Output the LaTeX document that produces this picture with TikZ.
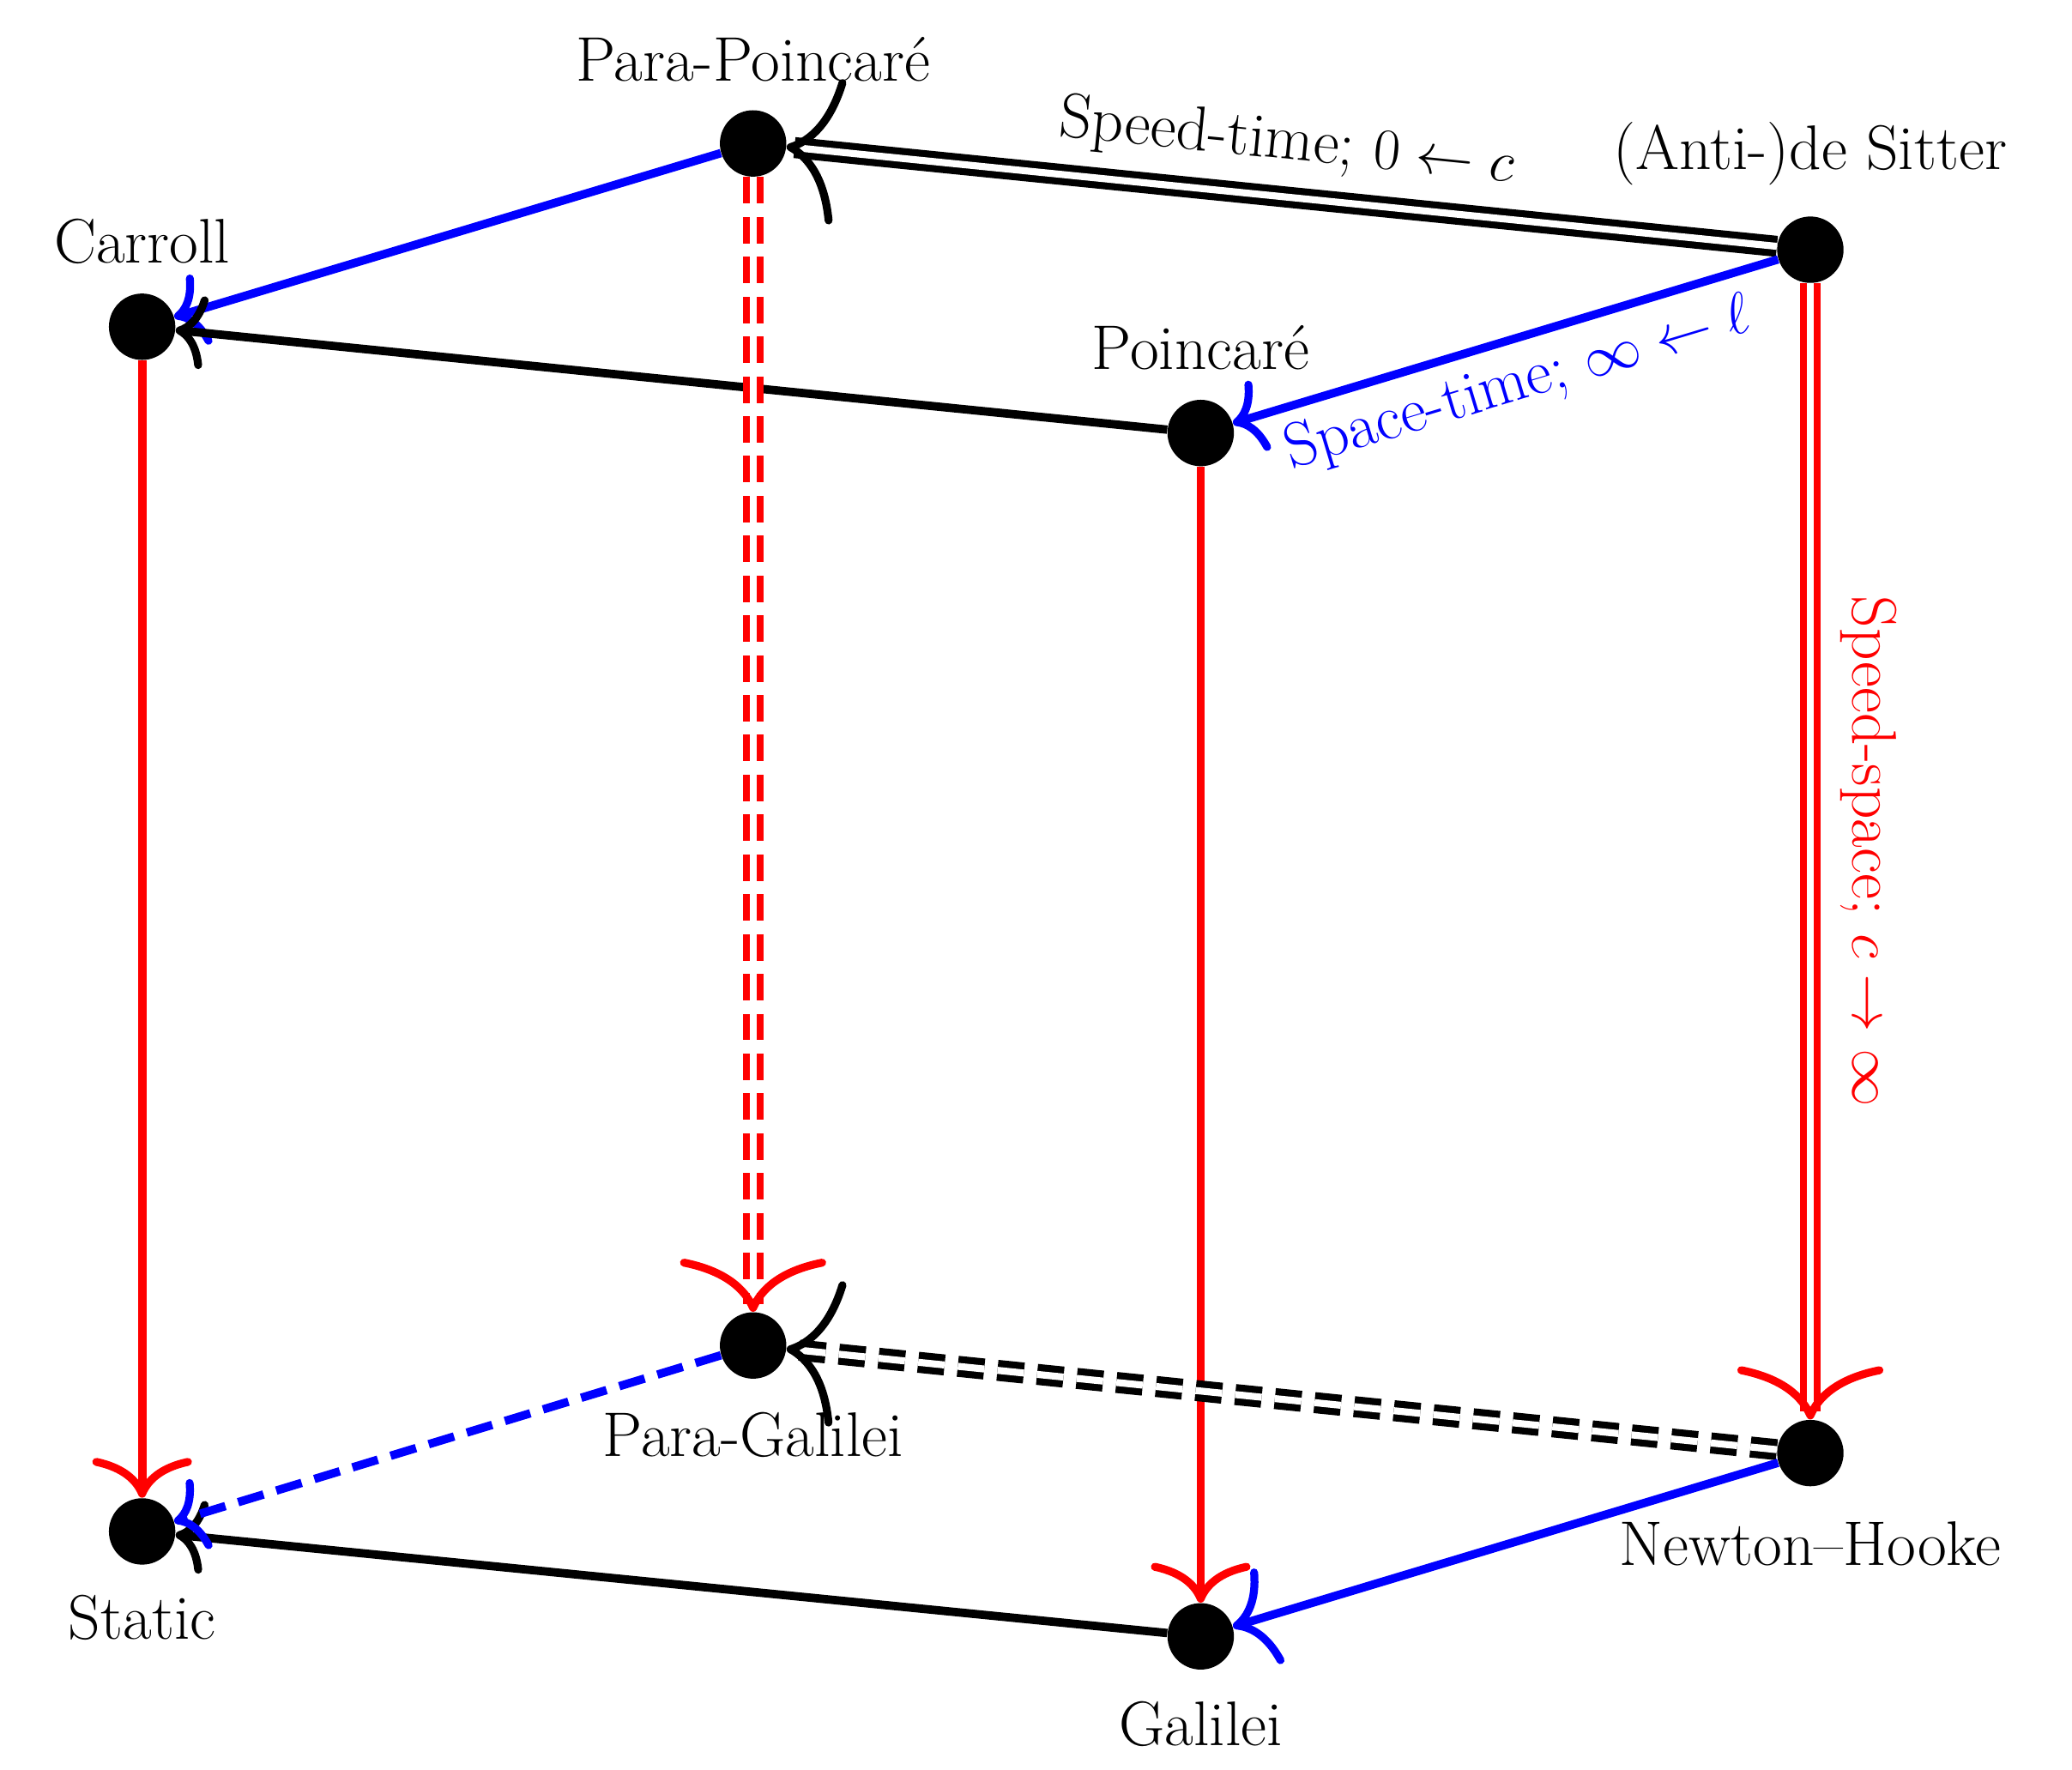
\documentclass[tikz,border=0pt]{standalone}
\usetikzlibrary{arrows.meta}
\begin{document}
\begin{tikzpicture}[x=0.02cm,y=-0.02cm,
  dot/.style={circle,fill=black,inner sep=0pt,minimum size=1cm},
  lab/.style={font=\fontsize{27}{31}\selectfont},
  e/.style={line width=3.6pt},
  sm/.style={-{Computer Modern Rightarrow[length=0.45cm,width=1.1cm,line width=3.4pt]}},
  bg/.style={-{Computer Modern Rightarrow[length=0.8cm,width=2.2cm,line width=3.4pt]}},
  dbl/.style={line width=3pt,double,double distance=3pt},
  dsh/.style={dash pattern=on 0.4cm off 0.2cm}]
\useasboundingbox (0,0) rectangle (1560,1332);
\node[dot] (pp) at (567,108) {};
\node[dot] (ads) at (1363,188) {};
\node[dot] (car) at (107,246) {};
\node[dot] (poi) at (904,326) {};
\node[dot] (pg) at (567,1013) {};
\node[dot] (nh) at (1363,1094) {};
\node[dot] (sta) at (107,1153) {};
\node[dot] (gal) at (904,1232) {};
\node[lab] (tpp) at (567,45) {Para-Poincaré};
\node[lab] (tads) at (1363,116) {(Anti-)de Sitter};
\node[lab] (tcar) at (107,182) {Carroll};
\node[lab] (tpoi) at (904,262) {Poincaré};
\node[lab] (tpg) at (567,1080) {Para-Galilei};
\node[lab] (tnh) at (1363,1162) {Newton--Hooke};
\node[lab] (tsta) at (107,1218) {Static};
\node[lab] (tgal) at (904,1298) {Galilei};
\draw[dbl,bg] (ads) -- node[lab,sloped,above=6pt,pos=0.5]{Speed-time; $0\leftarrow c$} (pp);
\draw[e,blue,sm] (ads) -- node[lab,sloped,below=2pt,pos=0.5,text=blue]{Space-time; $\infty\leftarrow\ell$} (poi);
\draw[dbl,red,bg] (ads) -- node[lab,sloped,above=8pt,pos=0.5,text=red]{Speed-space; $c\to\infty$} (nh);
\draw[e,blue,sm] (pp) -- (car);
\draw[e,black,sm] (poi) -- (car);
\draw[e,red,-{Computer Modern Rightarrow[length=0.6cm,width=1.5cm,line width=3.4pt]}] (car) -- (sta);
\draw[e,red,-{Computer Modern Rightarrow[length=0.6cm,width=1.5cm,line width=3.4pt]}] (poi) -- (gal);
\draw[dbl,red,dsh,bg] (pp) -- (pg);
\draw[dbl,black,dsh,bg] (nh) -- (pg);
\draw[e,blue,-{Computer Modern Rightarrow[length=0.6cm,width=1.5cm,line width=3.4pt]}] (nh) -- (gal);
\draw[e,black,sm] (gal) -- (sta);
\draw[e,blue,dsh,sm] (pg) -- (sta);
\end{tikzpicture}
\end{document}
